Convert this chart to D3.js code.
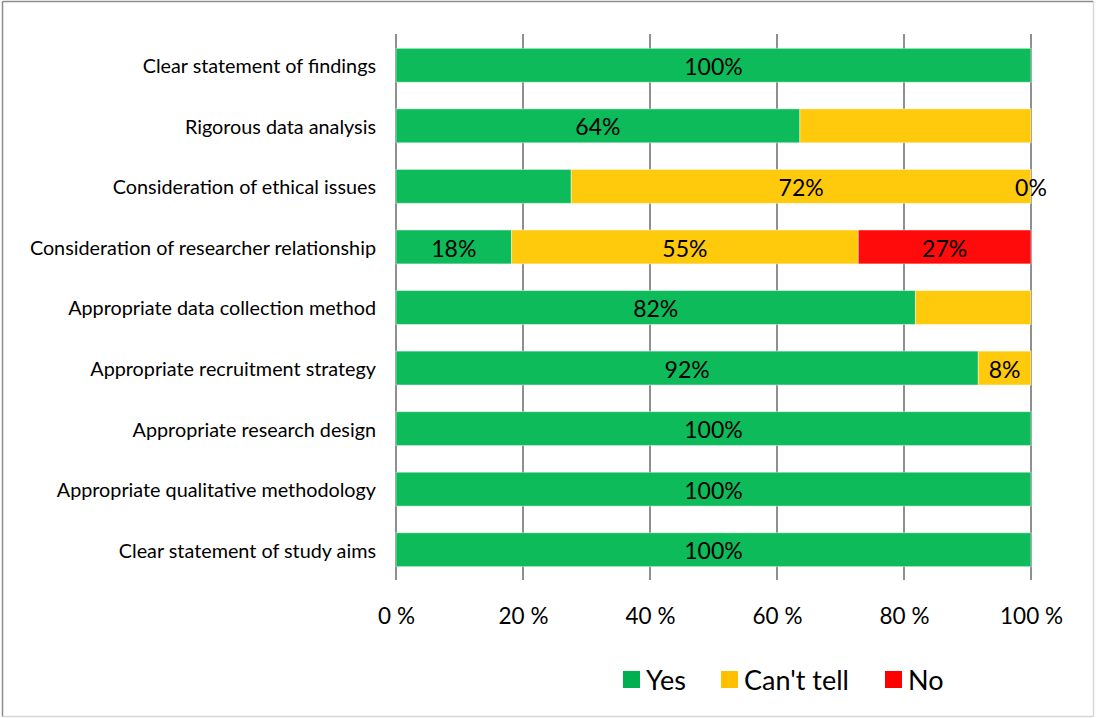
<!DOCTYPE html>
<html>
<head>
<meta charset="utf-8">
<script src="https://cdn.jsdelivr.net/npm/d3@7"></script>
<style>
  body { margin: 0; background: #fff; }
  text { font-family: Lato, "Open Sans", sans-serif; fill: #000; }
</style>
</head>
<body>
<div class="chart"></div>
<script>
// categories, top to bottom
var categories = [
  "Clear statement of findings",
  "Rigorous data analysis",
  "Consideration of ethical issues",
  "Consideration of researcher relationship",
  "Appropriate data collection method",
  "Appropriate recruitment strategy",
  "Appropriate research design",
  "Appropriate qualitative methodology",
  "Clear statement of study aims"
];

// percent values per series
var yesValues      = [100, 63.6, 27.6, 18.2, 81.8, 91.7, 100, 100, 100];
var cantTellValues = [0, 36.4, 72.4, 54.6, 18.2, 8.3, 0, 0, 0];
var noValues       = [0, 0, 0, 27.2, 0, 0, 0, 0, 0];

// which data labels show up in the original
var yesShown      = [1, 1, 0, 1, 1, 1, 1, 1, 1];
var cantTellShown = [0, 0, 1, 1, 0, 1, 0, 0, 0];
var noShown       = [0, 0, 1, 1, 0, 0, 0, 0, 0];

var seriesNames = ["Yes", "Can't tell", "No"];
var tickValues = [0, 20, 40, 60, 80, 100];

var barColors = ["#0dbb5a", "#ffc90c", "#ff0b0b"];
var legendColors = ["#00b050", "#ffc000", "#ff0000"];

var svgWidth = 1098;
var svgHeight = 718;

var svg = d3.select(".chart")
  .append("svg")
  .attr("width", svgWidth)
  .attr("height", svgHeight);

// chart frame
svg.append("rect")
  .attr("x", 0).attr("y", 0)
  .attr("width", svgWidth).attr("height", svgHeight)
  .attr("fill", "#fff");
svg.append("line").attr("x1", 2.5).attr("y1", 1.5).attr("x2", 1093.5).attr("y2", 1.5)
  .attr("stroke", "#8c8c8c").attr("stroke-width", 1.5);
svg.append("line").attr("x1", 2.5).attr("y1", 1.5).attr("x2", 2.5).attr("y2", 716.5)
  .attr("stroke", "#8c8c8c").attr("stroke-width", 1.5);
svg.append("line").attr("x1", 1093.5).attr("y1", 1.5).attr("x2", 1093.5).attr("y2", 716.5)
  .attr("stroke", "#d6d6d6").attr("stroke-width", 1.5);
svg.append("line").attr("x1", 2.5).attr("y1", 716.5).attr("x2", 1093.5).attr("y2", 716.5)
  .attr("stroke", "#d6d6d6").attr("stroke-width", 1.5);

// scales
var xScale = d3.scaleLinear()
  .domain([0, 100])
  .range([396, 1031]);

var yScale = d3.scaleBand()
  .domain(categories)
  .range([35, 580])
  .paddingInner(0.44)
  .paddingOuter(0.22);

// gridlines
svg.append("g")
  .selectAll("line")
  .data(tickValues)
  .enter()
  .append("line")
  .attr("x1", d => xScale(d))
  .attr("x2", d => xScale(d))
  .attr("y1", 34)
  .attr("y2", 580)
  .attr("stroke", "#8f8f8f")
  .attr("stroke-width", 2);

// stack data
var table = categories.map(function(c, i) {
  return { cat: c, "Yes": yesValues[i], "Can't tell": cantTellValues[i], "No": noValues[i] };
});
var shown = [yesShown, cantTellShown, noShown];

var stack = d3.stack().keys(seriesNames);
var layers = stack(table);

var layerGroups = svg.append("g")
  .selectAll("g")
  .data(layers)
  .enter()
  .append("g")
  .attr("fill", (d, i) => barColors[i]);

layerGroups.selectAll("rect")
  .data(d => d)
  .enter()
  .append("rect")
  .attr("x", d => xScale(d[0]))
  .attr("y", d => yScale(d.data.cat))
  .attr("width", d => xScale(d[1]) - xScale(d[0]))
  .attr("height", yScale.bandwidth())
  .attr("stroke", "rgba(255,255,255,0.45)")
  .attr("stroke-width", 1);

// data labels
var labelGroup = svg.append("g");
layers.forEach(function(layer, li) {
  layer.forEach(function(d, i) {
    if (!shown[li][i]) return;
    labelGroup.append("text")
      .attr("x", xScale((d[0] + d[1]) / 2))
      .attr("y", yScale(d.data.cat) + yScale.bandwidth() / 2)
      .attr("dy", "0.42em")
      .attr("text-anchor", "middle")
      .style("font-size", "23px")
      .text(Math.round(d[1] - d[0]) + "%");
  });
});

// category labels
var yAxis = d3.axisLeft(yScale).tickSize(0).tickPadding(0);
var yAxisG = svg.append("g")
  .attr("transform", "translate(376,0)")
  .call(yAxis);
yAxisG.select(".domain").remove();
yAxisG.selectAll("text")
  .style("font-size", "19.8px")
  .attr("dy", "0.4em");

// x tick labels
var xAxis = d3.axisBottom(xScale)
  .tickValues(tickValues)
  .tickSize(0)
  .tickPadding(0)
  .tickFormat(d => d + " %");
var xAxisG = svg.append("g")
  .attr("transform", "translate(0,615)")
  .call(xAxis);
xAxisG.select(".domain").remove();
xAxisG.selectAll("text")
  .attr("dy", "0.38em")
  .attr("y", 0)
  .style("font-size", "22.5px");

// legend
var legendX = [623, 721, 885];
var legend = svg.append("g")
  .selectAll("g")
  .data(seriesNames)
  .enter()
  .append("g")
  .attr("transform", (d, i) => "translate(" + legendX[i] + ",671)");
legend.append("rect")
  .attr("width", 17)
  .attr("height", 17)
  .attr("fill", (d, i) => legendColors[i]);
legend.append("text")
  .attr("x", 23)
  .attr("y", 8.5)
  .attr("dy", "0.38em")
  .style("font-size", "27px")
  .text(d => d);
</script>
</body>
</html>
